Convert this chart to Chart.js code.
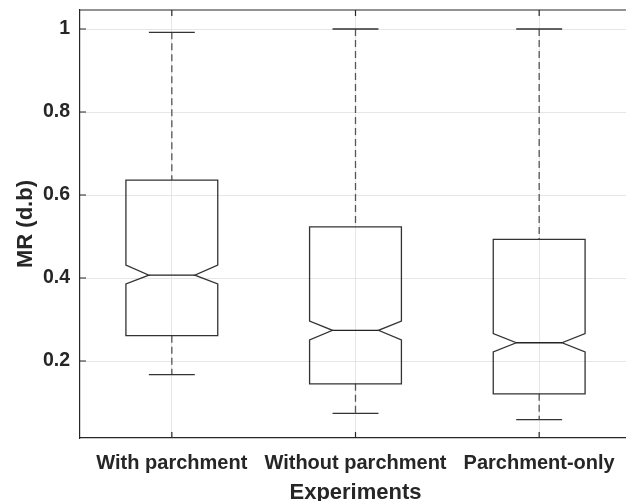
<!DOCTYPE html>
<html>
<head>
<meta charset="utf-8">
<script src="https://cdn.jsdelivr.net/npm/chart.js@4.4.1/dist/chart.umd.min.js"></script>
<style>
  html, body { margin: 0; padding: 0; background: #fff; overflow: hidden; }
  canvas { display: block; }
</style>
</head>
<body>
<canvas id="boxChart" width="640" height="501"></canvas>
<script>
// values (MR, dry basis)
const categories  = ['With parchment', 'Without parchment', 'Parchment-only'];
const whiskerHigh = [0.992, 1.0, 1.0];
const q3          = [0.636, 0.523, 0.493];
const notchHigh   = [0.431, 0.296, 0.266];
const medians     = [0.407, 0.274, 0.244];
const notchLow    = [0.386, 0.251, 0.222];
const q1          = [0.261, 0.145, 0.121];
const whiskerLow  = [0.167, 0.074, 0.059];
const yTicks      = [0.2, 0.4, 0.6, 0.8, 1];

const ink = '#262626';
const fontFamily = 'Arial, "Liberation Sans", sans-serif';

// draws notched boxes + dashed whiskers, plus matlab-style inward ticks and top frame
const boxPlot = {
  id: 'boxPlot',
  afterDatasetsDraw(chart) {
    const { ctx, chartArea: a, scales: { x, y } } = chart;
    const halfBox = 0.25, halfNotch = 0.125, halfCap = 0.125;
    ctx.save();

    categories.forEach((c, i) => {
      const pos = i + 1;
      const L = x.getPixelForValue(pos - halfBox), R = x.getPixelForValue(pos + halfBox);
      const nl = x.getPixelForValue(pos - halfNotch), nr = x.getPixelForValue(pos + halfNotch);
      const cx = x.getPixelForValue(pos);

      // whiskers (dashed)
      ctx.strokeStyle = '#555';
      ctx.lineWidth = 1.3;
      ctx.setLineDash([7, 4]);
      ctx.beginPath();
      ctx.moveTo(cx, y.getPixelForValue(whiskerHigh[i]));
      ctx.lineTo(cx, y.getPixelForValue(q3[i]));
      ctx.moveTo(cx, y.getPixelForValue(q1[i]));
      ctx.lineTo(cx, y.getPixelForValue(whiskerLow[i]));
      ctx.stroke();
      ctx.setLineDash([]);

      // caps
      ctx.strokeStyle = '#333';
      ctx.beginPath();
      [whiskerHigh[i], whiskerLow[i]].forEach(v => {
        const py = y.getPixelForValue(v);
        ctx.moveTo(x.getPixelForValue(pos - halfCap), py);
        ctx.lineTo(x.getPixelForValue(pos + halfCap), py);
      });
      ctx.stroke();

      // notched box
      const yq3 = y.getPixelForValue(q3[i]), yq1 = y.getPixelForValue(q1[i]);
      const ynh = y.getPixelForValue(notchHigh[i]), ynl = y.getPixelForValue(notchLow[i]);
      const ym = y.getPixelForValue(medians[i]);
      ctx.beginPath();
      ctx.moveTo(L, yq3);
      ctx.lineTo(R, yq3);
      ctx.lineTo(R, ynh);
      ctx.lineTo(nr, ym);
      ctx.lineTo(R, ynl);
      ctx.lineTo(R, yq1);
      ctx.lineTo(L, yq1);
      ctx.lineTo(L, ynl);
      ctx.lineTo(nl, ym);
      ctx.lineTo(L, ynh);
      ctx.closePath();
      ctx.stroke();

      // median
      ctx.strokeStyle = '#222';
      ctx.beginPath();
      ctx.moveTo(nl, ym);
      ctx.lineTo(nr, ym);
      ctx.stroke();
    });

    // frame top + inward tick marks
    ctx.strokeStyle = ink;
    ctx.lineWidth = 1.2;
    ctx.beginPath();
    ctx.moveTo(a.left, a.top);
    ctx.lineTo(a.right, a.top);
    yTicks.forEach(v => {
      const py = y.getPixelForValue(v);
      ctx.moveTo(a.left, py);
      ctx.lineTo(a.left + 6, py);
    });
    categories.forEach((c, i) => {
      const px = x.getPixelForValue(i + 1);
      ctx.moveTo(px, a.bottom);
      ctx.lineTo(px, a.bottom - 6);
      ctx.moveTo(px, a.top);
      ctx.lineTo(px, a.top + 6);
    });
    ctx.stroke();
    ctx.restore();
  }
};

new Chart(document.getElementById('boxChart'), {
  type: 'scatter',
  data: {
    datasets: [{
      data: medians.map((m, i) => ({ x: i + 1, y: m })),
      pointRadius: 0,
      showLine: false
    }]
  },
  options: {
    responsive: false,
    animation: false,
    layout: { padding: { top: 10, right: 9, left: 0, bottom: 0 } },
    plugins: { legend: { display: false }, tooltip: { enabled: false } },
    scales: {
      x: {
        type: 'linear',
        min: 0.5,
        max: 3.5,
        afterBuildTicks: s => { s.ticks = categories.map((c, i) => ({ value: i + 1 })); },
        afterFit: s => { s.height = 63; s.paddingLeft = 0; s.paddingRight = 0; },
        grid: { color: '#e6e6e6', drawTicks: false },
        border: { color: ink, width: 1.2 },
        ticks: {
          padding: 13,
          color: ink,
          maxRotation: 0,
          autoSkip: false,
          font: { family: fontFamily, size: 20, weight: 'bold' },
          callback: v => categories[v - 1]
        },
        title: {
          display: true,
          text: 'Experiments',
          color: ink,
          padding: { top: 0, bottom: -3 },
          font: { family: fontFamily, size: 22, weight: 'bold', lineHeight: 1 }
        }
      },
      y: {
        min: 0.0145,
        max: 1.0458,
        afterBuildTicks: s => { s.ticks = yTicks.map(v => ({ value: v })); },
        afterFit: s => { s.width = 80; s.paddingTop = 0; s.paddingBottom = 0; },
        grid: { color: '#e6e6e6', drawTicks: false },
        border: { color: ink, width: 1.2 },
        ticks: {
          padding: 10,
          color: ink,
          font: { family: fontFamily, size: 19.5, weight: 'bold' },
          callback: v => String(+v.toFixed(1))
        },
        title: {
          display: true,
          text: 'MR (d.b)',
          color: ink,
          padding: { top: 15, bottom: 0 },
          font: { family: fontFamily, size: 22, weight: 'bold', lineHeight: 1 }
        }
      }
    }
  },
  plugins: [boxPlot]
});
</script>
</body>
</html>
